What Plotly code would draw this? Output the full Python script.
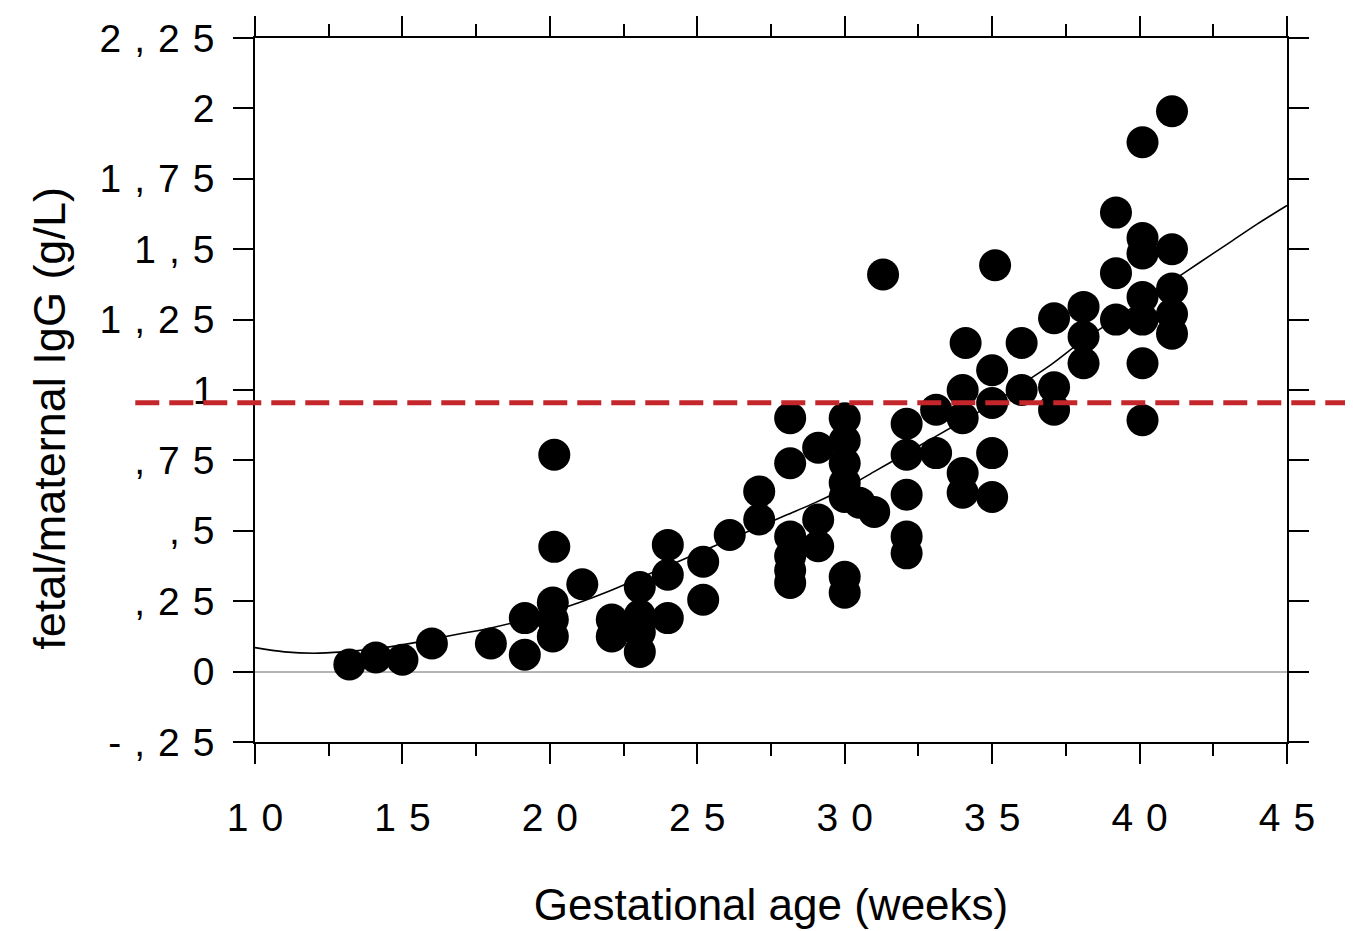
import plotly.graph_objects as go

# ---- data ----
weeks = [13.2, 14.1, 15.0, 16.0, 18.0, 19.15, 19.15,
         20.15, 20.15, 20.1, 20.1, 20.1, 21.1, 22.1, 22.1,
         23.05, 23.05, 23.05, 23.05, 24.0, 24.0, 24.0, 25.2, 25.2,
         26.1, 27.1, 27.1,
         28.15, 28.15, 28.15, 28.15, 28.15, 28.15,
         29.1, 29.1, 29.1,
         30.0, 30.0, 30.0, 30.0, 30.0, 30.0, 30.0, 30.5, 31.0, 31.3,
         32.1, 32.1, 32.1, 32.1, 32.1, 33.1, 33.1,
         34.1, 34.0, 34.0, 34.0, 34.0,
         35.1, 35.0, 35.0, 35.0, 35.0,
         36.0, 36.0, 37.1, 37.1, 37.1, 38.1, 38.1, 38.1,
         39.2, 39.2, 39.2,
         40.1, 40.1, 40.1, 40.1, 40.1, 40.1, 40.1,
         41.1, 41.1, 41.1, 41.1, 41.1]
ratio = [0.025, 0.05, 0.042, 0.10, 0.10, 0.19, 0.06,
         0.77, 0.443, 0.245, 0.185, 0.125, 0.31, 0.185, 0.125,
         0.30, 0.20, 0.14, 0.07, 0.45, 0.344, 0.19, 0.39, 0.255,
         0.485, 0.64, 0.54,
         0.90, 0.74, 0.48, 0.41, 0.36, 0.315,
         0.795, 0.54, 0.445,
         0.90, 0.82, 0.74, 0.67, 0.62, 0.337, 0.28, 0.60, 0.567, 1.41,
         0.88, 0.77, 0.628, 0.48, 0.42, 0.93, 0.776,
         1.167, 1.0, 0.90, 0.705, 0.635,
         1.443, 1.07, 0.954, 0.776, 0.62,
         1.167, 1.0, 1.255, 1.01, 0.93, 1.295, 1.19, 1.095,
         1.63, 1.415, 1.25,
         1.88, 1.54, 1.485, 1.33, 1.25, 1.095, 0.893,
         1.99, 1.50, 1.36, 1.27, 1.20]

curve_weeks = [10, 11, 12, 13, 14, 15, 16, 17, 18, 19, 20, 21, 22, 23, 24, 25,
               26, 27, 28, 29, 30, 31, 32, 33, 34, 35, 36, 37, 38, 39, 40,
               41, 42, 43, 44, 45]
curve_ratio = [0.085, 0.07, 0.065, 0.07, 0.08, 0.095, 0.115, 0.135, 0.155,
               0.18, 0.21, 0.245, 0.285, 0.33, 0.375, 0.42, 0.465, 0.51,
               0.555, 0.60, 0.65, 0.71, 0.77, 0.83, 0.89, 0.95, 1.02, 1.09,
               1.17, 1.24, 1.31, 1.38, 1.45, 1.52, 1.59, 1.655]

reference_level = [0.955]

x_tickvals = [10, 15, 20, 25, 30, 35, 40, 45]
x_ticktext = ["10", "15", "20", "25", "30", "35", "40", "45"]
y_tickvals = [-0.25, 0, 0.25, 0.5, 0.75, 1, 1.25, 1.5, 1.75, 2, 2.25]
y_ticktext = ["-,25", "0", ",25", ",5", ",75", "1", "1,25", "1,5", "1,75", "2", "2,25"]

x_title = "Gestational age (weeks)"
y_title = "fetal/maternal IgG (g/L)"

SP = "\u2004"


def spaced(s):
    return SP.join(list(s))


FONT = "Liberation Sans, Arial, Helvetica, sans-serif"

fig = go.Figure()
fig.add_trace(go.Scatter(
    x=curve_weeks, y=curve_ratio, mode="lines",
    line=dict(color="black", width=1.6, shape="spline"),
    hoverinfo="skip", showlegend=False))
fig.add_trace(go.Scatter(
    x=weeks, y=ratio, mode="markers",
    marker=dict(color="black", size=32, line=dict(width=0)),
    showlegend=False))

fig.add_shape(type="line", xref="paper", yref="y",
              x0=-0.116, x1=1.08, y0=reference_level[0], y1=reference_level[0],
              line=dict(color="#c4262b", width=5, dash="24px,10px"), layer="above")

fig.add_annotation(text=y_title, xref="paper", yref="paper",
                   x=-0.199, y=0.46, xanchor="center", yanchor="middle",
                   textangle=-90, showarrow=False,
                   font=dict(family=FONT, size=45, color="black"))

tickfont = dict(family=FONT, size=39, color="black")

fig.update_layout(
    width=1353, height=931,
    margin=dict(l=247, r=74, t=30, b=197, autoexpand=False),
    paper_bgcolor="white", plot_bgcolor="white",
    xaxis=dict(
        range=[10, 45], tickvals=x_tickvals,
        ticktext=[spaced(t) for t in x_ticktext],
        ticks="outside", ticklen=20, tickwidth=1.5, tickcolor="black",
        minor=dict(tickvals=[12.5, 17.5, 22.5, 27.5, 32.5, 37.5, 42.5],
                   ticks="outside", ticklen=12, tickwidth=1.5, tickcolor="black"),
        showline=True, linecolor="black", linewidth=1.5, mirror="ticks",
        showgrid=False, zeroline=False, automargin=False,
        tickfont=tickfont, ticklabelstandoff=20,
        title=dict(text=x_title, standoff=52,
                   font=dict(family=FONT, size=44, color="black")),
    ),
    yaxis=dict(
        range=[-0.25, 2.25], tickvals=y_tickvals,
        ticktext=[spaced(t) for t in y_ticktext],
        ticks="outside", ticklen=20, tickwidth=1.5, tickcolor="black",
        showline=True, linecolor="black", linewidth=1.5, mirror="ticks",
        showgrid=False, automargin=False,
        zeroline=True, zerolinecolor="#b5b5b5", zerolinewidth=1.5,
        tickfont=tickfont, ticklabelstandoff=11,
    ),
)

fig.write_html("out.html")
